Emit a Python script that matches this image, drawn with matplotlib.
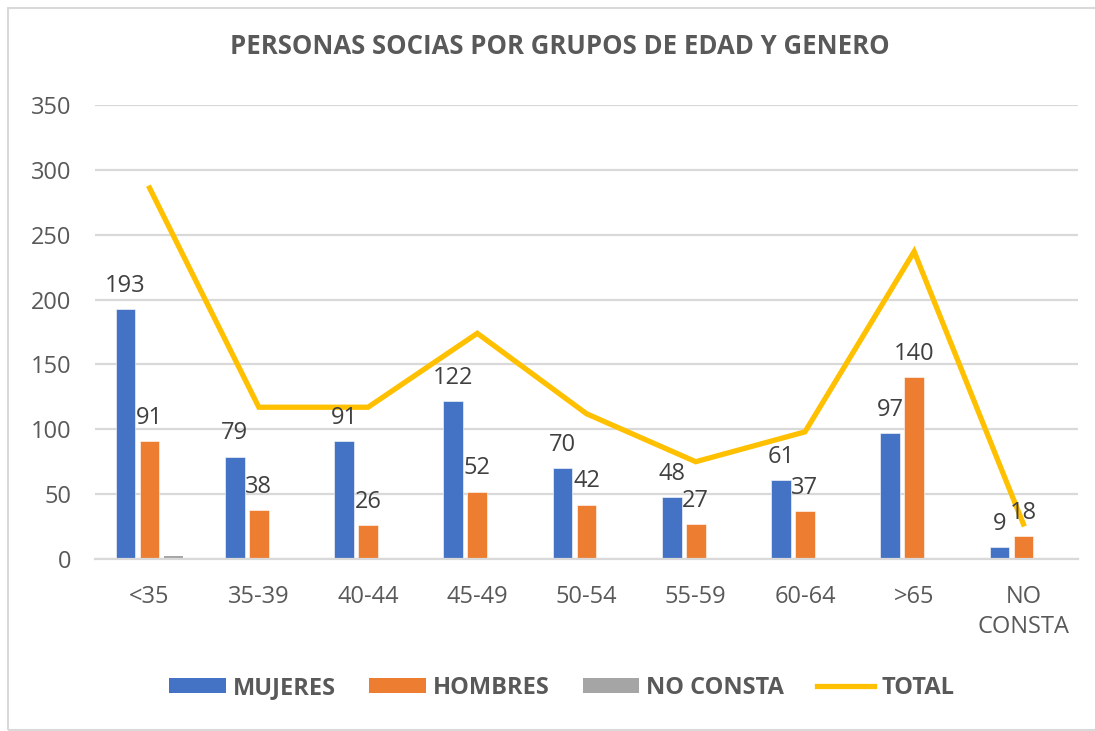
import numpy as np
import matplotlib
matplotlib.use("Agg")
import matplotlib.pyplot as plt
from matplotlib.patches import Patch, Rectangle
from matplotlib.lines import Line2D

plt.rcParams["font.family"] = ["Open Sans", "DejaVu Sans"]

# Data
categories = ["<35", "35-39", "40-44", "45-49", "50-54", "55-59", "60-64", ">65", "NO\nCONSTA"]
mujeres = [193, 79, 91, 122, 70, 48, 61, 97, 9]
hombres = [91, 38, 26, 52, 42, 27, 37, 140, 18]
no_consta = [2, 0, 0, 0, 0, 0, 0, 0, 0]
total = [286, 117, 117, 174, 112, 75, 98, 237, 27]

BLUE = "#4472C4"
ORANGE = "#ED7D31"
GRAY = "#A5A5A5"
GOLD = "#FFC000"
TEXT = "#595959"
GRID = "#D9D9D9"
FS = 17

fig = plt.figure(figsize=(10.95, 7.31), dpi=100)
ax = fig.add_axes([95 / 1095, 1 - 559 / 731, (1078 - 95) / 1095, (559 - 105) / 731])

x = np.arange(len(categories))
step = 0.22
width = 0.18

b1 = ax.bar(x - step, mujeres, width, color=BLUE, edgecolor="white", linewidth=0.4, zorder=2)
b2 = ax.bar(x, hombres, width, color=ORANGE, edgecolor="white", linewidth=0.4, zorder=2)
b3 = ax.bar(x + step, no_consta, width, color=GRAY, zorder=2)
ax.plot(x, total, color=GOLD, linewidth=3.8, zorder=3, solid_joinstyle="miter")

# data labels for mujeres and hombres
for bars, vals in ((b1, mujeres), (b2, hombres)):
    for rect, v in zip(bars, vals):
        ax.annotate(str(v), (rect.get_x() + rect.get_width() / 2, v),
                    xytext=(0, 8), textcoords="offset points",
                    ha="center", va="bottom", fontsize=FS, color="#404040", zorder=4)

ax.set_xlim(-0.5, len(categories) - 0.5)
ax.set_ylim(0, 350)
ax.set_yticks(range(0, 351, 50))
ax.set_xticks(x)
ax.set_xticklabels(categories, linespacing=1.3)
ax.tick_params(axis="both", length=0, labelsize=FS, labelcolor=TEXT)
ax.tick_params(axis="y", pad=17)
ax.tick_params(axis="x", pad=19)
ax.grid(axis="y", color=GRID, linewidth=1.6, zorder=0)
ax.set_axisbelow(True)
for side in ("top", "right", "left"):
    ax.spines[side].set_visible(False)
ax.spines["bottom"].set_color(GRID)
ax.spines["bottom"].set_linewidth(1.6)

fig.text(0.511, 0.936, "PERSONAS SOCIAS POR GRUPOS DE EDAD Y GENERO",
         ha="center", va="center", fontsize=18.5, fontweight="bold", color=TEXT)

handles = [
    Patch(facecolor=BLUE, label="MUJERES"),
    Patch(facecolor=ORANGE, label="HOMBRES"),
    Patch(facecolor=GRAY, label="NO CONSTA"),
    Line2D([0], [0], color=GOLD, linewidth=3.8, label="TOTAL"),
]
leg = fig.legend(handles=handles, loc="center", bbox_to_anchor=(0.513, 1 - 688 / 731),
                 ncol=4, frameon=False, handlelength=2.4, handleheight=0.6,
                 handletextpad=0.3, columnspacing=1.4,
                 prop={"size": FS, "weight": "bold"})
for t in leg.get_texts():
    t.set_color(TEXT)

# chart border
fig.patches.append(Rectangle((8 / 1095, 1 / 731), 1.2, 1 - 9 / 731, transform=fig.transFigure,
                             fill=False, edgecolor=GRID, linewidth=1.5))

fig.savefig("out.png", dpi=100)
